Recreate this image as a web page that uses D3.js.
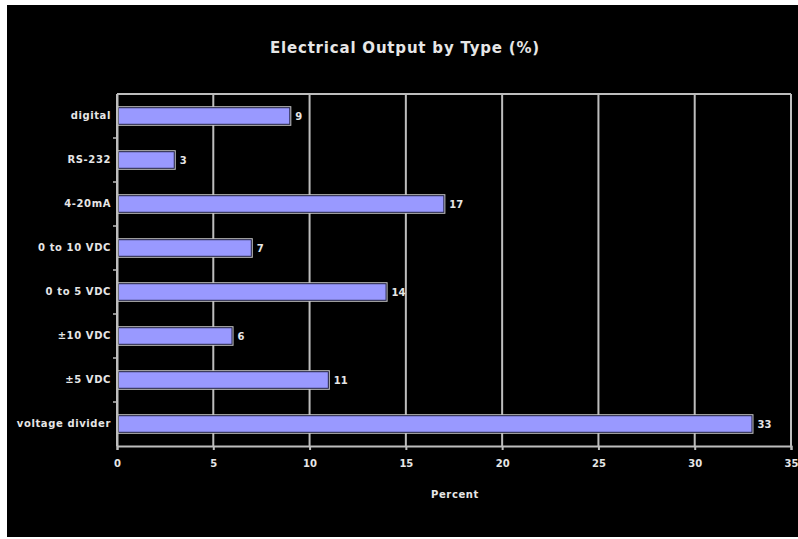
<!DOCTYPE html>
<html lang="en">
<head>
    <meta charset="UTF-8">
    <script src="https://d3js.org/d3.v7.min.js"></script>
    <style>
        body { margin: 0; background: #fff; }
        text { font-family: "DejaVu Sans", "Liberation Sans", Arial, sans-serif; fill: #e6e6e6; }
    </style>
    <title>Electrical Output by Type</title>
</head>
<body>
    <div class="canvas"></div>
    <script>
        const categories = ['digital', 'RS-232', '4-20mA', '0 to 10 VDC', '0 to 5 VDC', '±10 VDC', '±5 VDC', 'voltage divider']
        const percents = [9, 3, 17, 7, 14, 6, 11, 33]
        const xTicks = [0, 5, 10, 15, 20, 25, 30, 35]

        const data = categories.map((c, i) => ({ type: c, value: percents[i] }))

        const areaWidth = 798
        const areaHeight = 539
        const svg = d3.select('.canvas')
            .append('svg')
            .attr('width', areaWidth)
            .attr('height', areaHeight)

        // black panel with a thin white margin left/top/bottom
        svg.append('rect')
            .attr('x', 7).attr('y', 5)
            .attr('width', areaWidth - 7).attr('height', 532)
            .attr('fill', '#000')

        const [mt, mb, mr, ml] = [94, 93, 7, 117]
        const graphWidth = areaWidth - ml - mr
        const graphHeight = areaHeight - mt - mb

        const x = d3.scaleLinear()
            .domain([0, 35])
            .range([0, graphWidth])

        const y = d3.scaleBand()
            .domain(categories)
            .range([0, graphHeight])
            .paddingInner(0.6)
            .paddingOuter(0.3)

        const graph = svg.append('g')
            .attr('transform', `translate(${ml},${mt})`)

        // vertical gridlines + top border
        graph.selectAll('line.grid')
            .data(xTicks)
            .enter()
            .append('line')
            .attr('x1', d => x(d))
            .attr('x2', d => x(d))
            .attr('y1', 0)
            .attr('y2', graphHeight)
            .attr('stroke', '#bdbdbd')
            .attr('stroke-width', 2)

        graph.append('line')
            .attr('x1', 0).attr('x2', graphWidth)
            .attr('y1', 0).attr('y2', 0)
            .attr('stroke', '#bdbdbd')
            .attr('stroke-width', 2)

        // bars: light outline with dark inner edge
        const bars = graph.selectAll('g.bar').data(data).enter().append('g')

        bars.append('rect')
            .attr('x', 0)
            .attr('y', d => y(d.type) - 1)
            .attr('width', d => x(d.value) + 1)
            .attr('height', y.bandwidth() + 2)
            .attr('fill', '#c4c4c4')

        bars.append('rect')
            .attr('x', 1.5)
            .attr('y', d => y(d.type) + 0.5)
            .attr('width', d => x(d.value) - 2)
            .attr('height', y.bandwidth() - 1)
            .attr('fill', '#9999ff')
            .attr('stroke', '#1e1e40')
            .attr('stroke-width', 1)

        bars.append('text')
            .attr('x', d => x(d.value) + 5)
            .attr('y', d => y(d.type) + y.bandwidth() / 2 + 4)
            .text(d => d.value)
            .style('font-size', '10px')
            .style('font-weight', 'bold')

        // axes
        const xAxisG = graph.append('g')
            .attr('transform', `translate(0,${graphHeight})`)
        const yAxisG = graph.append('g')

        const xAxis = d3.axisBottom(x)
            .tickValues(xTicks)
            .tickSize(4)
            .tickPadding(10)
        const yAxis = d3.axisLeft(y)
            .tickSize(0)
            .tickPadding(6)

        xAxisG.call(xAxis)
        yAxisG.call(yAxis)

        xAxisG.select('.domain').attr('stroke', '#bdbdbd').attr('stroke-width', 2)
        xAxisG.selectAll('line').attr('stroke', '#bdbdbd').attr('stroke-width', 2)
        yAxisG.select('.domain').attr('stroke', '#bdbdbd').attr('stroke-width', 2)

        xAxisG.selectAll('text')
            .attr('fill', '#e6e6e6')
            .style('font-family', '"DejaVu Sans", sans-serif')
            .style('font-size', '10px')
            .style('font-weight', 'bold')
        yAxisG.selectAll('text')
            .attr('fill', '#e6e6e6')
            .style('font-family', '"DejaVu Sans", sans-serif')
            .style('font-size', '10px')
            .style('font-weight', 'bold')
            .style('letter-spacing', '0.6px')

        // small ticks at band boundaries on the category axis
        const step = y.step()
        const bounds = categories.slice(1).map(c => y(c) - (step - y.bandwidth()) / 2)
        yAxisG.selectAll('line.sep')
            .data(bounds)
            .enter()
            .append('line')
            .attr('x1', -4).attr('x2', 0)
            .attr('y1', d => d).attr('y2', d => d)
            .attr('stroke', '#bdbdbd')
            .attr('stroke-width', 1.5)

        svg.append('text')
            .attr('x', 405)
            .attr('y', 53)
            .attr('text-anchor', 'middle')
            .style('font-size', '15px')
            .style('font-weight', 'bold')
            .style('letter-spacing', '0.8px')
            .text('Electrical Output by Type (%)')

        svg.append('text')
            .attr('x', ml + graphWidth / 2 + 1)
            .attr('y', 498)
            .attr('text-anchor', 'middle')
            .style('font-size', '10px')
            .style('font-weight', 'bold')
            .style('letter-spacing', '0.6px')
            .text('Percent')
    </script>
</body>
</html>
